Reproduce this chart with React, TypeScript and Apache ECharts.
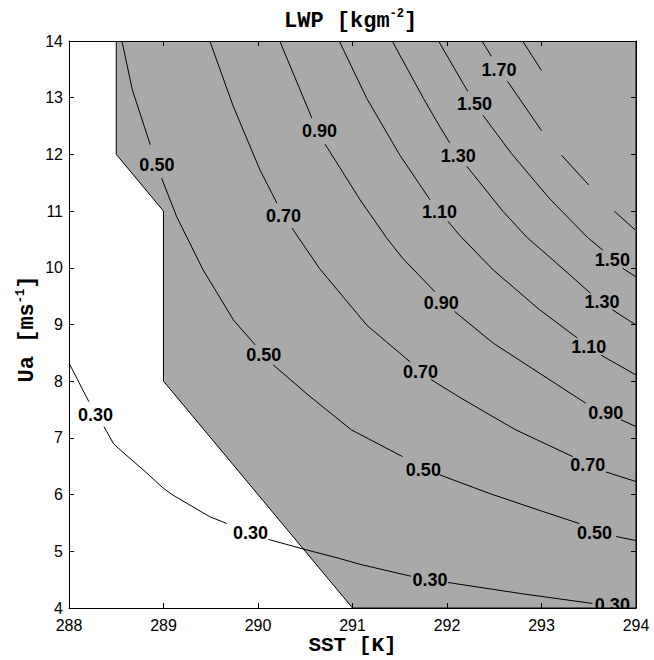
import React, { useEffect, useRef } from "react";
import * as echarts from "echarts";

// ---- data ----
const xMin = 288;
const xMax = 294;
const yMin = 4;
const yMax = 14;

// gray (feasible) region polygon
const regionX = [288.5, 288.5, 289, 289, 291, 294, 294];
const regionY = [14, 12, 11, 8, 4, 4, 14];

// contour lines, broken where labels sit (segments of [SST, Ua])
const c030 = [
  [[288.0, 8.32], [288.21, 7.64]],
  [[288.37, 7.2], [288.47, 6.9], [288.52, 6.82], [288.79, 6.43], [289.0, 6.11], [289.1, 5.99], [289.49, 5.61], [289.67, 5.49]],
  [[290.11, 5.21], [290.48, 5.04], [290.87, 4.87], [291.08, 4.77], [291.62, 4.56]],
  [[292.01, 4.45], [292.8, 4.25], [293.54, 4.08]],
];
const c050 = [
  [[288.56, 14], [288.67, 13.14], [288.86, 12.17]],
  [[288.98, 11.58], [289.14, 10.9], [289.42, 9.96], [289.74, 9.08], [289.97, 8.64]],
  [[290.16, 8.29], [290.55, 7.73], [290.99, 7.14], [291.53, 6.67]],
  [[291.92, 6.35], [292.45, 6.02], [293.0, 5.71], [293.4, 5.49]],
  [[293.79, 5.26], [294, 5.19]],
];
const c070 = [
  [[289.49, 14], [289.74, 12.84], [290.02, 11.73], [290.2, 11.14]],
  [[290.36, 10.7], [290.65, 9.99], [291.15, 8.99], [291.61, 8.34]],
  [[291.83, 8.03], [292.13, 7.72], [292.49, 7.37], [292.73, 7.14], [293.33, 6.67]],
  [[293.68, 6.4], [294, 6.23]],
];
const c090 = [
  [[290.23, 14], [290.57, 12.64]],
  [[290.71, 12.18], [291.08, 11.2], [291.36, 10.53], [291.53, 10.17], [291.87, 9.58]],
  [[292.08, 9.23], [292.49, 8.67], [292.98, 8.14], [293.47, 7.61]],
  [[293.84, 7.32], [294, 7.2]],
];
const c110 = [
  [[290.86, 14], [291.15, 12.99], [291.5, 11.99], [291.82, 11.2]],
  [[292.01, 10.82], [292.13, 10.58], [292.49, 9.96], [292.98, 9.26], [293.38, 8.76]],
  [[293.63, 8.46], [294, 8.11]],
];
const c130 = [
  [[291.42, 14], [291.75, 12.99], [291.92, 12.5], [292.03, 12.2]],
  [[292.21, 11.79], [292.59, 11.0], [292.85, 10.53], [293.12, 10.14], [293.52, 9.55]],
  [[293.75, 9.26], [294, 8.99]],
];
const c150 = [
  [[291.91, 14], [292.22, 13.11]],
  [[292.38, 12.69], [292.68, 12.02], [293.08, 11.23], [293.49, 10.53], [293.65, 10.31]],
  [[293.86, 9.99], [294, 9.84]],
];
const c170 = [
  [[292.37, 14], [292.47, 13.73]],
  [[292.64, 13.29], [293.0, 12.42]],
  [[293.21, 11.99], [293.5, 11.46]],
  [[293.77, 11.0], [293.99, 10.67]],
];
const c190 = [[[292.8, 14], [293.0, 13.48]]];

const contours = [c030, c050, c070, c090, c110, c130, c150, c170, c190];

// inline contour labels: [text, SST, Ua]
const contourLabels: [string, number, number][] = [
  ["0.30", 288.28, 7.4],
  ["0.30", 289.92, 5.32],
  ["0.30", 291.82, 4.49],
  ["0.30", 293.75, 4.05],
  ["0.50", 288.93, 11.81],
  ["0.50", 290.06, 8.46],
  ["0.50", 291.75, 6.43],
  ["0.50", 293.56, 5.33],
  ["0.70", 290.27, 10.91],
  ["0.70", 291.72, 8.17],
  ["0.70", 293.49, 6.52],
  ["0.90", 290.65, 12.42],
  ["0.90", 291.94, 9.38],
  ["0.90", 293.68, 7.44],
  ["1.10", 291.92, 10.98],
  ["1.10", 293.5, 8.6],
  ["1.30", 292.12, 11.98],
  ["1.30", 293.64, 9.4],
  ["1.50", 292.29, 12.89],
  ["1.50", 293.75, 10.14],
  ["1.70", 292.55, 13.49],
];

const SANS = '"Liberation Sans", Arial, Helvetica, sans-serif';
const MONO = '"Liberation Mono", "Courier New", monospace';

function buildOption() {
  const baseAxis = (extra: any) => ({
    type: "value",
    z: 10,
    axisLine: { show: true, onZero: false, lineStyle: { color: "#000", width: 1 } },
    axisTick: { show: true, inside: true, length: 5, lineStyle: { color: "#000", width: 1 } },
    splitLine: { show: false },
    ...extra,
  });
  const tickLabel = {
    color: "#000",
    fontSize: 16,
    fontFamily: SANS,
    lineHeight: 12,
    showMinLabel: true,
    showMaxLabel: true,
  };

  const lineSeries = contours.flatMap((segs) =>
    segs.map((seg) => ({
      type: "line",
      data: seg,
      symbol: "none",
      silent: true,
      z: 3,
      clip: true,
      lineStyle: { color: "#000", width: 1 },
    }))
  );

  const titleSize = 22;
  const cw = titleSize * 0.6;
  const supSize = 12;
  const sw = supSize * 0.6;
  const titleX = 284;
  const titleY = 21;
  const supRaise = 9;

  const yLabMain = "Ua [ms";
  const yLabW = yLabMain.length * cw + 2 * sw + cw;
  const yStart = -yLabW / 2;

  const txt = (text: string, x: number, y: number, size: number, align = "left") => ({
    type: "text",
    x,
    y,
    style: {
      text,
      font: `bold ${size}px ${MONO}`,
      fill: "#000",
      align,
      textAlign: align,
      verticalAlign: "middle",
      textVerticalAlign: "middle",
    },
  });

  return {
    animation: false,
    backgroundColor: "#fff",
    grid: { left: 69, right: 18, top: 41, bottom: 52, containLabel: false },
    xAxis: [
      baseAxis({ position: "bottom", min: xMin, max: xMax, interval: 1, axisLabel: { ...tickLabel, margin: 11 } }),
      baseAxis({ position: "top", min: xMin, max: xMax, interval: 1, axisLabel: { show: false } }),
    ],
    yAxis: [
      baseAxis({ position: "left", min: yMin, max: yMax, interval: 1, axisLabel: { ...tickLabel, margin: 6 } }),
      baseAxis({ position: "right", min: yMin, max: yMax, interval: 1, axisLabel: { show: false } }),
    ],
    series: [
      {
        type: "custom",
        z: 1,
        silent: true,
        clip: true,
        data: [[xMin, yMin]],
        renderItem: (params: any, api: any) => {
          const pts = regionX.map((x, i) => api.coord([x, regionY[i]]));
          return {
            type: "polygon",
            shape: { points: pts },
            style: { fill: "#a9a9a9", stroke: "#000", lineWidth: 1 },
          };
        },
      },
      ...lineSeries,
      {
        type: "custom",
        z: 5,
        silent: true,
        clip: true,
        data: contourLabels.map((l, i) => [l[1], l[2], i]),
        renderItem: (params: any, api: any) => {
          const p = api.coord([api.value(0), api.value(1)]);
          const t = contourLabels[api.value(2) as number][0];
          return {
            type: "text",
            x: p[0],
            y: p[1],
            style: {
              text: t,
              fill: "#000",
              font: `bold 18px ${SANS}`,
              align: "center",
              verticalAlign: "middle",
            },
          };
        },
      },
    ],
    graphic: [
      // title: LWP [kgm^-2]
      txt("LWP [kgm", titleX, titleY, titleSize),
      txt("-2", titleX + 8 * cw, titleY - supRaise + (titleSize - supSize) * 0.3 - 0.6, supSize),
      txt("]", titleX + 8 * cw + 2 * sw, titleY, titleSize),
      // x label
      txt("SST [K]", 352.5, 645, 21, "center"),
      // y label (rotated)
      {
        type: "group",
        x: 27,
        y: 329,
        rotation: Math.PI / 2,
        children: [
          txt(yLabMain, yStart, 0, titleSize),
          txt("-1", yStart + yLabMain.length * cw, -8 + (titleSize - supSize) * 0.3 - 0.6, supSize),
          txt("]", yStart + yLabMain.length * cw + 2 * sw, 0, titleSize),
        ],
      },
    ],
  };
}

export default function App() {
  const ref = useRef<HTMLDivElement>(null);
  useEffect(() => {
    document.body.style.margin = "0";
    const chart = echarts.init(ref.current!, null, { renderer: "svg" });
    chart.setOption(buildOption() as any);
    return () => chart.dispose();
  }, []);
  return <div ref={ref} style={{ width: 654, height: 660 }} />;
}
